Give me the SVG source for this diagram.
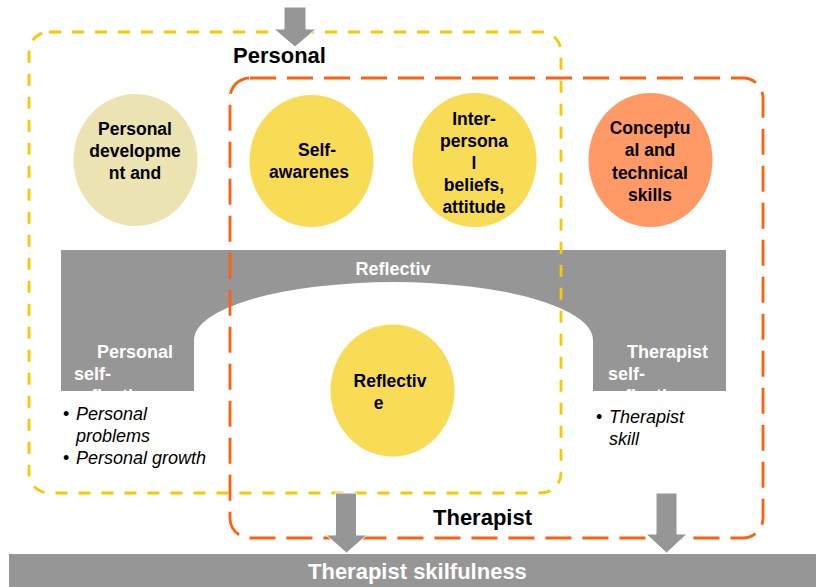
<svg xmlns="http://www.w3.org/2000/svg" width="816" height="587" viewBox="0 0 816 587">
  <style>
    .lbl { font-family: "Liberation Sans", Arial, sans-serif; font-weight: bold; }
    .node { font-size: 17.5px; fill: #000; text-anchor: middle; }
    .band { font-size: 18px; fill: #fff; }
    .title { font-size: 22px; fill: #000; }
    .item { font-family: "Liberation Sans", Arial, sans-serif; font-style: italic; font-size: 18px; fill: #000; }
    .dot { font-family: "Liberation Sans", Arial, sans-serif; font-size: 18px; fill: #000; }
    .gray { fill: #969696; }
    .arrow { fill: #969696; stroke: #fff; stroke-width: 1; }
  </style>
  <defs>
    <clipPath id="clipLeft"><rect x="61" y="330" width="133" height="61"/></clipPath>
    <clipPath id="clipRight"><rect x="593" y="330" width="134" height="61"/></clipPath>
  </defs>
  <rect width="816" height="587" fill="#fff"/>

  <!-- reflection band with arch -->
  <g id="reflective-band">
    <path class="gray" d="M61,250 H726 V391 H593 V340 A199.5,58 0 0 0 194,340 V391 H61 Z"/>
    <text class="lbl band" x="393" y="275" text-anchor="middle" font-size="19.5">Reflectiv</text>
  </g>

  <g id="personal-self-reflection">
    <g clip-path="url(#clipLeft)">
      <text class="lbl band" x="97" y="358">Personal</text>
      <text class="lbl band" x="74" y="380">self-</text>
      <text class="lbl band" x="74" y="402">reflection</text>
    </g>
    <text class="dot" x="63" y="420">•</text>
    <text class="item" x="76" y="420">Personal</text>
    <text class="item" x="76" y="442">problems</text>
    <text class="dot" x="63" y="464">•</text>
    <text class="item" x="76" y="464">Personal growth</text>
  </g>

  <g id="therapist-self-reflection">
    <g clip-path="url(#clipRight)">
      <text class="lbl band" x="627" y="358">Therapist</text>
      <text class="lbl band" x="608" y="380">self-</text>
      <text class="lbl band" x="608" y="402">reflection</text>
    </g>
    <text class="dot" x="596" y="423">•</text>
    <text class="item" x="609" y="423">Therapist</text>
    <text class="item" x="609" y="445">skill</text>
  </g>

  <!-- circles -->
  <g id="personal-development">
    <ellipse cx="135.5" cy="160" rx="62" ry="66" fill="#EBE3B1"/>
    <text class="lbl node" x="135" y="135">Personal</text>
    <text class="lbl node" x="135" y="157">developme</text>
    <text class="lbl node" x="135" y="179">nt and</text>
  </g>
  <g id="self-awareness">
    <ellipse cx="311.5" cy="161" rx="62" ry="66" fill="#F9DC55"/>
    <text class="lbl node" x="317" y="156">Self-</text>
    <text class="lbl node" x="309" y="178">awarenes</text>
  </g>
  <g id="interpersonal-beliefs">
    <ellipse cx="474.5" cy="160" rx="62" ry="67" fill="#F9DC55"/>
    <text class="lbl node" x="474" y="125">Inter-</text>
    <text class="lbl node" x="474" y="147">persona</text>
    <text class="lbl node" x="474" y="169">l</text>
    <text class="lbl node" x="474" y="191">beliefs,</text>
    <text class="lbl node" x="474" y="213">attitude</text>
  </g>
  <g id="conceptual-skills">
    <ellipse cx="650.5" cy="160" rx="62" ry="67" fill="#FF9966"/>
    <text class="lbl node" x="650" y="134">Conceptu</text>
    <text class="lbl node" x="650" y="156">al and</text>
    <text class="lbl node" x="650" y="179">technical</text>
    <text class="lbl node" x="650" y="201">skills</text>
  </g>
  <g id="reflective-practice">
    <ellipse cx="392.5" cy="390.5" rx="62" ry="66" fill="#F9DC55"/>
    <text class="lbl node" x="390" y="387">Reflectiv</text>
    <text class="lbl node" x="378.5" y="409">e</text>
  </g>

  <!-- dashed group outlines -->
  <g id="personal-area">
    <rect x="29" y="32" width="532" height="461" rx="20" fill="none" stroke="#F8C800" stroke-width="2.8" stroke-dasharray="12 11"/>
    <text class="lbl title" x="233" y="63">Personal</text>
  </g>
  <g id="therapist-area">
    <rect x="230" y="78" width="533" height="460" rx="20" fill="none" stroke="#FF6010" stroke-width="2.8" stroke-dasharray="26 11"/>
    <text class="lbl title" x="433" y="525">Therapist</text>
  </g>

  <!-- outcome bar -->
  <g id="therapist-skilfulness">
    <rect class="gray" x="9" y="554" width="807" height="33"/>
    <text class="lbl title" x="308" y="579" fill="#fff" style="fill:#fff">Therapist skilfulness</text>
  </g>

  <!-- block arrows -->
  <g id="connectors">
    <polygon class="arrow" points="284,7 306,7 306,29 316,29 295,47 274,29 284,29"/>
    <polygon class="arrow" points="335.5,493 356.5,493 356.5,535 367,535 346.5,553 326,535 335.5,535"/>
    <polygon class="arrow" points="656,493 677,493 677,534 687,534 666.5,553 646,534 656,534"/>
  </g>
</svg>
